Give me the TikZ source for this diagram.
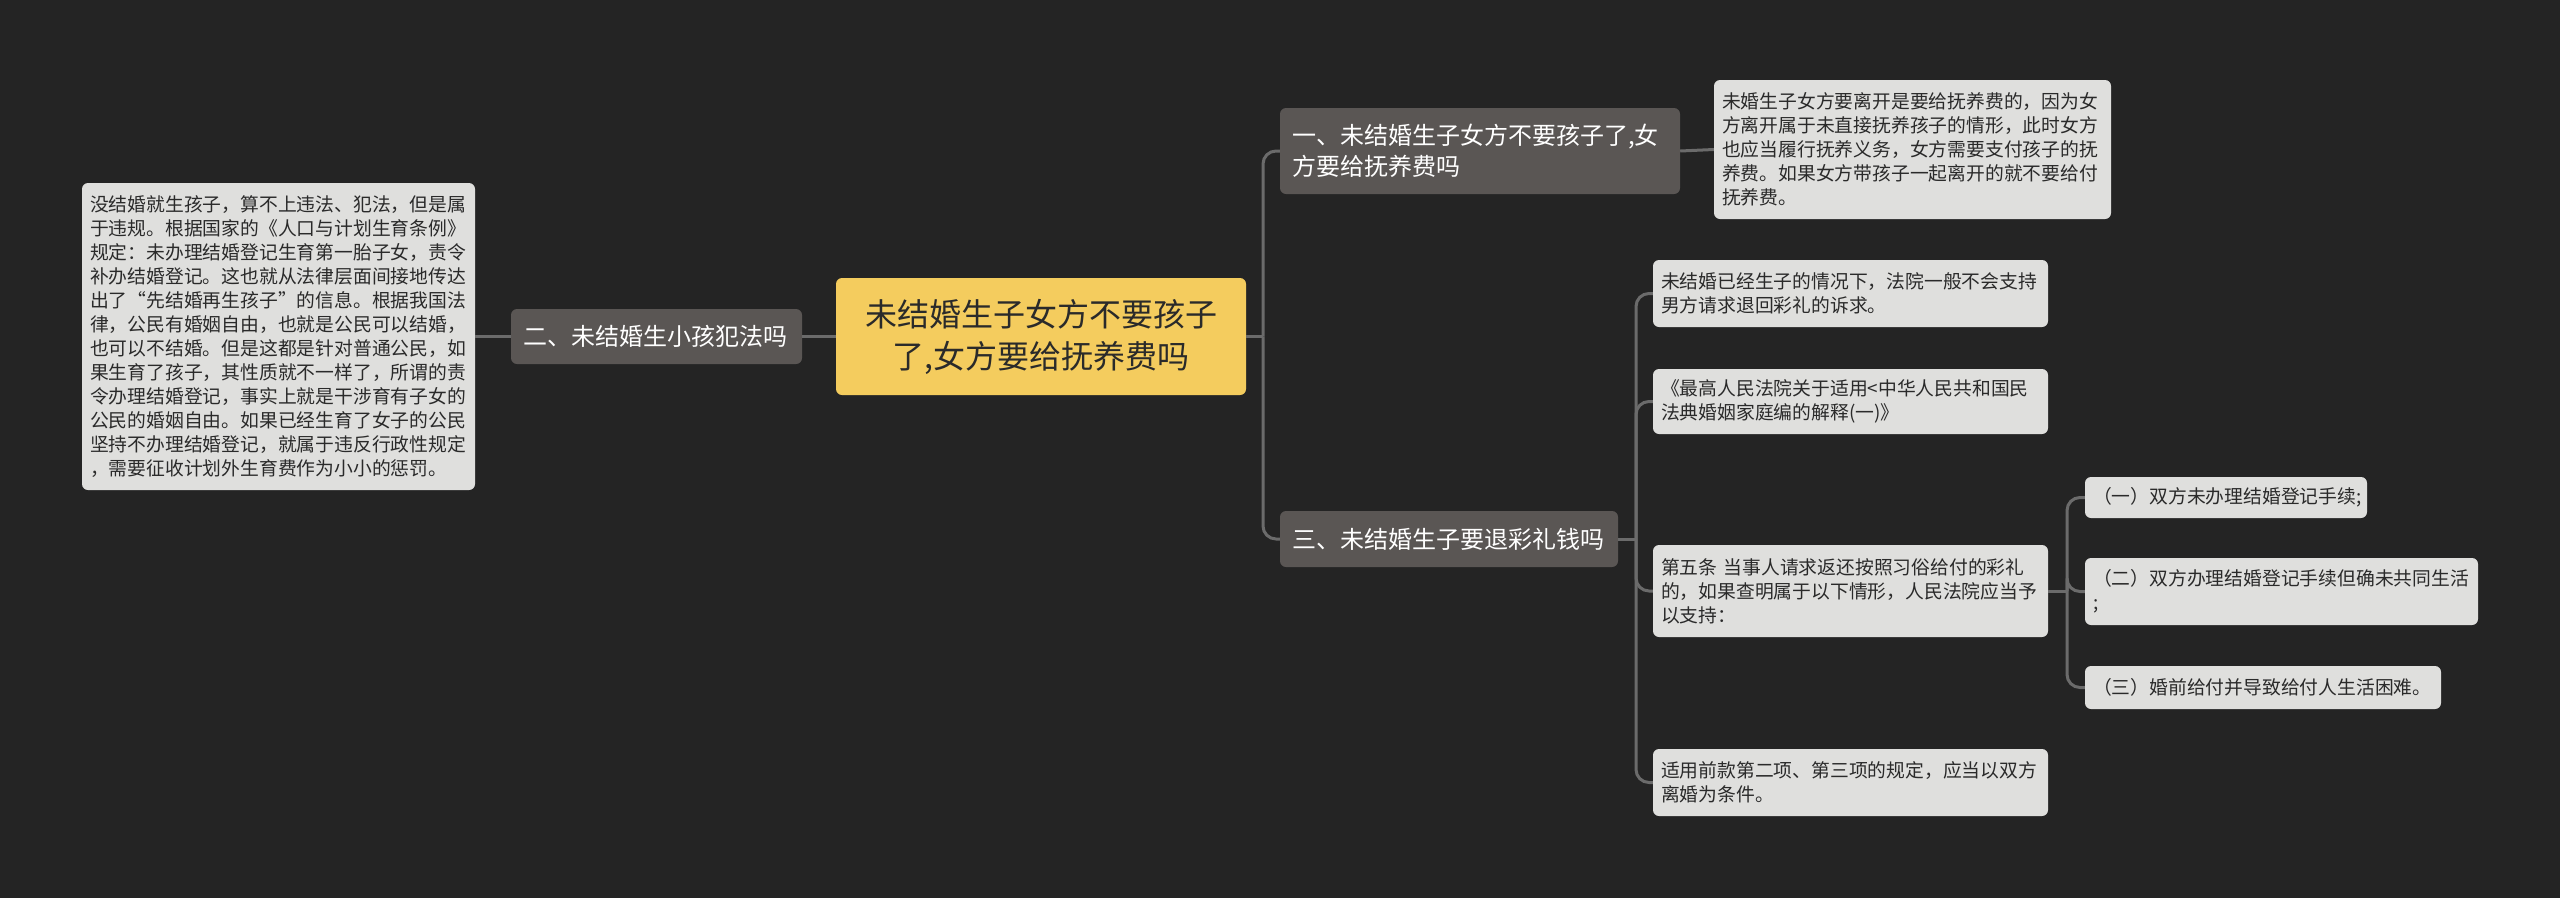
\documentclass[tikz,border=0pt]{standalone}
\usepackage{fontspec}
\setmainfont{Noto Sans CJK SC}
\definecolor{bgc}{HTML}{242424}
\definecolor{rootc}{HTML}{F4CC5E}
\definecolor{branchc}{HTML}{5A5654}
\definecolor{leafc}{HTML}{DFDFDD}
\definecolor{linec}{HTML}{6B6B6B}
\definecolor{darktext}{HTML}{2A2A2A}
\begin{document}
\begin{tikzpicture}[x=1pt,y=-1pt,
  rootnode/.style={fill=rootc, rounded corners=6pt, text=darktext, align=center,
    minimum width=410pt, minimum height=117pt, inner sep=0pt,
    font=\fontsize{32}{42}\selectfont},
  branchnode/.style={fill=branchc, rounded corners=6pt, text=white, align=left,
    inner xsep=12pt, inner ysep=0pt, font=\fontsize{24}{31}\selectfont},
  leafnode/.style={fill=leafc, rounded corners=6pt, text=darktext, align=left,
    inner xsep=8pt, inner ysep=0pt, font=\fontsize{18.8}{24}\selectfont},
  conn/.style={draw=linec, line width=3pt},
  elbow/.style={conn, rounded corners=13pt}]
\fill[bgc] (0,0) rectangle (2560,898);
\useasboundingbox (0,0) rectangle (2560,898);

% root
\node[rootnode] (root) at (1041,336.5) {未结婚生子女方不要孩子\\了,女方要给抚养费吗};

% left side
\node[branchnode, text width=267pt, minimum height=55pt] (b2) at (656.5,336.5) {二、未结婚生小孩犯法吗};
\node[leafnode, text width=377pt, minimum height=307pt] (ll) at (278.5,336.5) {没结婚就生孩子，算不上违法、犯法，但是属\\于违规。根据国家的《人口与计划生育条例》\\规定：未办理结婚登记生育第一胎子女，责令\\补办结婚登记。这也就从法律层面间接地传达\\出了“先结婚再生孩子”的信息。根据我国法\\律，公民有婚姻自由，也就是公民可以结婚，\\也可以不结婚。但是这都是针对普通公民，如\\果生育了孩子，其性质就不一样了，所谓的责\\令办理结婚登记，事实上就是干涉育有子女的\\公民的婚姻自由。如果已经生育了女子的公民\\坚持不办理结婚登记，就属于违反行政性规定\\，需要征收计划外生育费作为小小的惩罚。};

% branch 1
\node[branchnode, text width=376pt, minimum height=86pt] (b1) at (1480,151) {一、未结婚生子女方不要孩子了,女\\方要给抚养费吗};
\node[leafnode, text width=381pt, minimum height=139pt] (l1) at (1912.5,149.5) {未婚生子女方要离开是要给抚养费的，因为女\\方离开属于未直接抚养孩子的情形，此时女方\\也应当履行抚养义务，女方需要支付孩子的抚\\养费。如果女方带孩子一起离开的就不要给付\\抚养费。};

% branch 3
\node[branchnode, text width=314pt, minimum height=56pt] (b3) at (1449,539) {三、未结婚生子要退彩礼钱吗};
\node[leafnode, text width=379pt, minimum height=67pt] (l31) at (1850.5,293.5) {未结婚已经生子的情况下，法院一般不会支持\\男方请求退回彩礼的诉求。};
\node[leafnode, text width=379pt, minimum height=65pt] (l32) at (1850.5,401.5) {《最高人民法院关于适用<中华人民共和国民\\法典婚姻家庭编的解释(一)》};
\node[leafnode, text width=379pt, minimum height=92pt] (l33) at (1850.5,591) {第五条~当事人请求返还按照习俗给付的彩礼\\的，如果查明属于以下情形，人民法院应当予\\以支持：};
\node[leafnode, text width=379pt, minimum height=67pt] (l34) at (1850.5,782.5) {适用前款第二项、第三项的规定，应当以双方\\离婚为条件。};

\node[leafnode, text width=266pt, minimum height=41pt] (l331) at (2226,497.5) {（一）双方未办理结婚登记手续;};
\node[leafnode, text width=377pt, minimum height=67pt] (l332) at (2281.5,591.5) {（二）双方办理结婚登记手续但确未共同生活\\;};
\node[leafnode, text width=340pt, minimum height=43pt] (l333) at (2263,687.5) {（三）婚前给付并导致给付人生活困难。};

% connectors
\draw[conn] (root.west) -- (b2.east);
\draw[conn] (b2.west) -- (ll.east);

\coordinate (j1) at (1263,336.5);
\draw[conn] (root.east) -- (j1);
\draw[elbow] (j1) |- (b1.west);
\draw[elbow] (j1) |- (b3.west);
\draw[conn] (b1.east) -- (l1.west);

\coordinate (j3) at (1636,539);
\draw[conn] (b3.east) -- (j3);
\draw[elbow] (j3) |- (l31.west);
\draw[elbow] (j3) |- (l32.west);
\draw[elbow] (j3) |- (l33.west);
\draw[elbow] (j3) |- (l34.west);

\coordinate (j33) at (2067,591);
\draw[conn] (l33.east) -- (j33);
\draw[elbow] (j33) |- (l331.west);
\draw[elbow] (j33) |- (l332.west);
\draw[elbow] (j33) |- (l333.west);
\end{tikzpicture}
\end{document}
